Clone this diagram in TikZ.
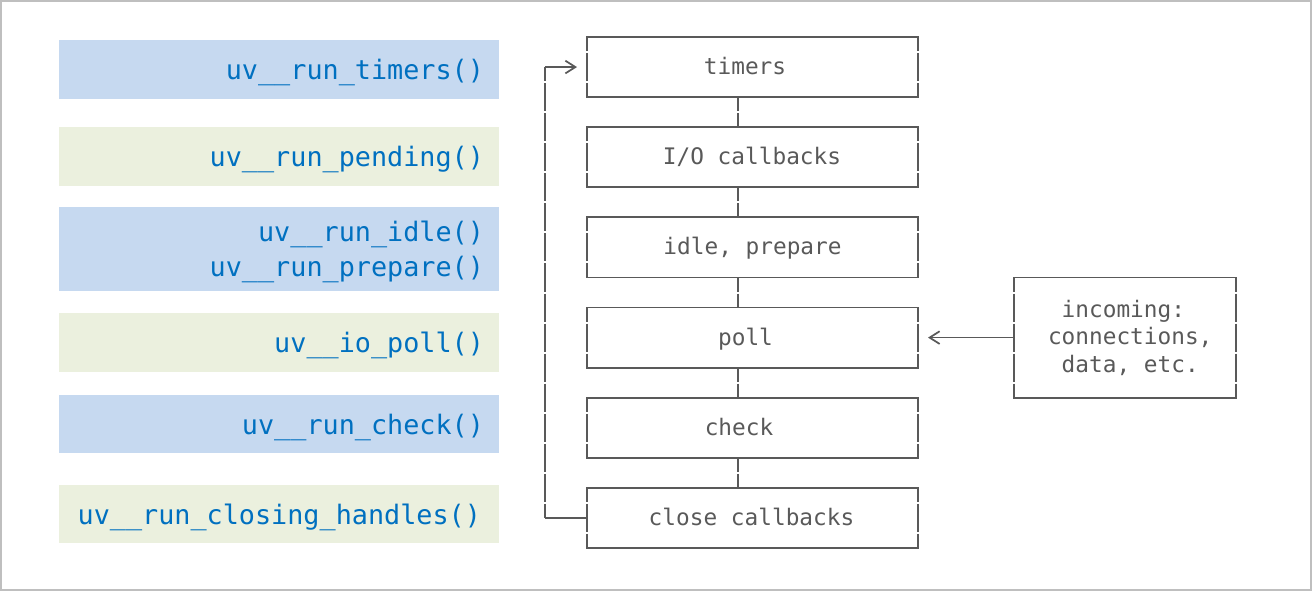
\documentclass[tikz,border=0pt]{standalone}
\usepackage{fontspec}
\newfontfamily\monofont{DejaVu Sans Mono}
\usetikzlibrary{arrows.meta}
\definecolor{lblue}{HTML}{C6D9F0}
\definecolor{lgreen}{HTML}{EBF0DE}
\definecolor{codeblue}{HTML}{0070C0}
\definecolor{linegray}{HTML}{595959}
\definecolor{framegray}{HTML}{BFBFBF}
\newcommand\asciibox[1]{%
  \draw[hl] (#1.north west) -- (#1.north east);
  \draw[hl] (#1.south west) -- (#1.south east);
  \draw[vl] (#1.north west) -- (#1.south west);
  \draw[vl] (#1.north east) -- (#1.south east);}
\begin{document}
\frenchspacing
\begin{tikzpicture}[x=0.75pt,y=-0.75pt,
  lbox/.style={rectangle, draw=none, minimum width=330pt, text width=307.5pt,
    inner xsep=11.25pt, inner ysep=0pt, outer sep=0pt, align=right, text=codeblue,
    font=\monofont\frenchspacing\fontsize{20.1pt}{26.25pt}\selectfont},
  one/.style={text height=18pt, text depth=2.25pt},
  rbox/.style={rectangle, inner sep=0pt, outer sep=0pt, minimum width=248.25pt,
    minimum height=45.09pt, text=linegray,
    font=\monofont\frenchspacing\fontsize{17.07pt}{20.6pt}\selectfont},
  rone/.style={text height=13pt, text depth=1.75pt},
  hl/.style={draw=linegray, line width=1.3pt, line cap=rect},
  vl/.style={draw=linegray, line width=1.3pt, dash pattern=on 21.045pt off 1.5pt, dash phase=10.52pt},
  conn/.style={draw=linegray, line width=1.3pt},
  tip/.style={-{Straight Barb[length=7.5pt,width=9.5pt]}, shorten >=7.5pt}
]
\useasboundingbox (0,0) rectangle (1312,591);
\draw[framegray, line width=1.5pt] (1,1) rectangle (1311,590);

% left column
\node[lbox, one, fill=lblue, minimum height=44.25pt] (l1) at (279,69.5) {uv\_\_run\_timers()};
\node[lbox, one, fill=lgreen, minimum height=44.25pt] (l2) at (279,156.5) {uv\_\_run\_pending()};
\node[lbox, fill=lblue, minimum height=62.55pt] (l3) at (279,249) {\rule{0pt}{19.8pt}uv\_\_run\_idle()\\uv\_\_run\_prepare()};
\node[lbox, one, fill=lgreen, minimum height=44.25pt] (l4) at (279,342.2) {uv\_\_io\_poll()};
\node[lbox, one, fill=lblue, minimum height=43.7pt] (l5) at (279,424.2) {uv\_\_run\_check()};
\node[lbox, one, fill=lgreen, minimum height=43.7pt] (l6) at (279,514.2) {uv\_\_run\_closing\_handles()\hspace*{2.25pt}};

% right column
\node[rbox, rone] (timers) at (752.5,67.06) {\hspace{-11.25pt}timers};
\node[rbox, rone] (io) at (752.5,157.24) {\hspace{-0.75pt}I/O callbacks};
\node[rbox, rone] (idle) at (752.5,247.42) {idle, prepare};
\node[rbox, rone] (poll) at (752.5,337.6) {\hspace{-10.5pt}poll};
\node[rbox, rone] (check) at (752.5,427.78) {\hspace{-20.25pt}check};
\node[rbox, rone] (close) at (752.5,517.96) {\hspace{-1.5pt}close callbacks};
\node[rbox, minimum width=166.5pt, minimum height=90.18pt, align=left] (inc) at (1125,337.6)
  {\hspace*{7.8pt}\phantom{i}incoming:\\\hspace*{7.8pt}connections,\\\hspace*{7.8pt}\phantom{d}data, etc.};

\foreach \n in {timers,io,idle,poll,check,close,inc} {\asciibox{\n}}

% connectors
\coordinate (cx) at (738,0);
\foreach \a/\b in {timers/io, io/idle, idle/poll, poll/check, check/close}
  \draw[vl] (\a.south -| cx) -- (\b.north -| cx);

\coordinate (lx) at (545,0);
\coordinate (ltop) at (timers.west -| lx);
\coordinate (lbot) at (close.west -| lx);
\draw[vl] (ltop) -- (lbot);
\draw[conn] (close.west) -- (lbot);
\draw[conn, tip] (ltop) -- (timers.west);

\draw[conn, tip] (inc.west) -- (poll.east);
\end{tikzpicture}
\end{document}
